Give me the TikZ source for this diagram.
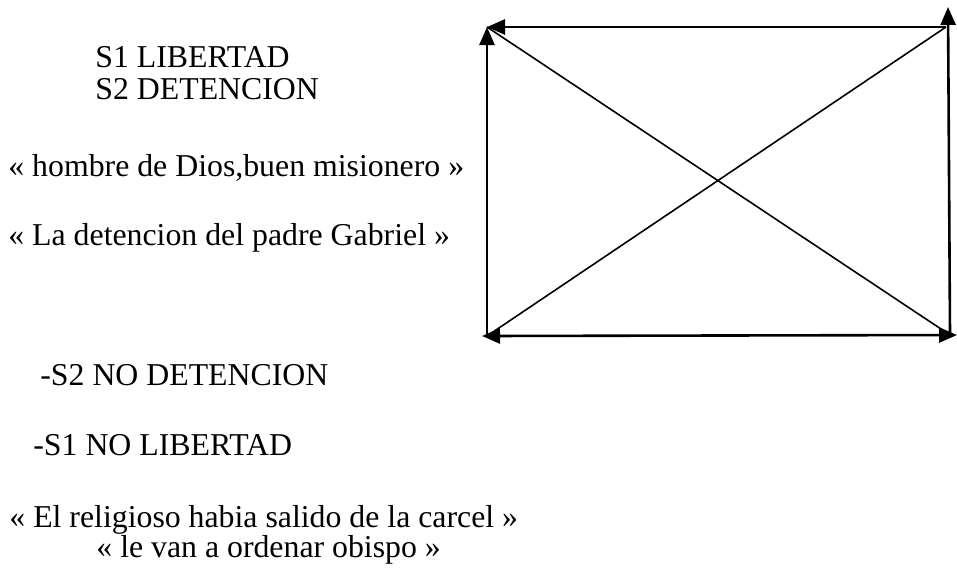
\documentclass[tikz,border=0pt]{standalone}
\usepackage{fontspec}
\setmainfont{Liberation Serif}
\usetikzlibrary{arrows.meta}
\tikzset{>={Triangle[length=9pt,width=7.5pt]}}
\tikzset{
  texto/.style={anchor=base west, inner sep=0pt, font=\fontsize{15.9}{18}\selectfont},
  lado/.style={->, line width=1.3pt},
  cruz/.style={line width=0.8pt},
}

\begin{document}
\begin{tikzpicture}[x=0.5pt,y=-0.5pt]
    \useasboundingbox (0,0) rectangle (957,569);
    % textos
    \node[texto] (s1) at (95,67) {S1 LIBERTAD};
    \node[texto] (s2) at (95,99) {S2 DETENCION};
    \node[texto] (hombre) at (8,176) {« hombre de Dios,buen misionero »};
    \node[texto] (detencion) at (8,245) {« La detencion del padre Gabriel »};
    \node[texto] (nos2) at (40,385) {-S2 NO DETENCION};
    \node[texto] (nos1) at (33,455) {-S1 NO LIBERTAD};
    \node[texto] (religioso) at (9,527) {« El religioso habia salido de la carcel »};
    \node[texto] (obispo) at (96,557) {« le van a ordenar obispo »};
    % cuadrado
    \coordinate (a) at (487,27);
    \coordinate (b) at (946,27);
    \coordinate (c) at (950,335);
    \coordinate (d) at (487,336);
    \coordinate (bb) at (948,7);
    \coordinate (cc) at (957,335);
    \coordinate (dd) at (482,336);
    \draw[lado] (b) -- (a);
    \draw[lado] (d) -- (a);
    \draw[lado] (c) -- (bb);
    \draw[lado,<->] (dd) -- (cc);
    \draw[cruz] (a) -- (c);
    \draw[cruz] (b) -- (d);
\end{tikzpicture}
\end{document}
